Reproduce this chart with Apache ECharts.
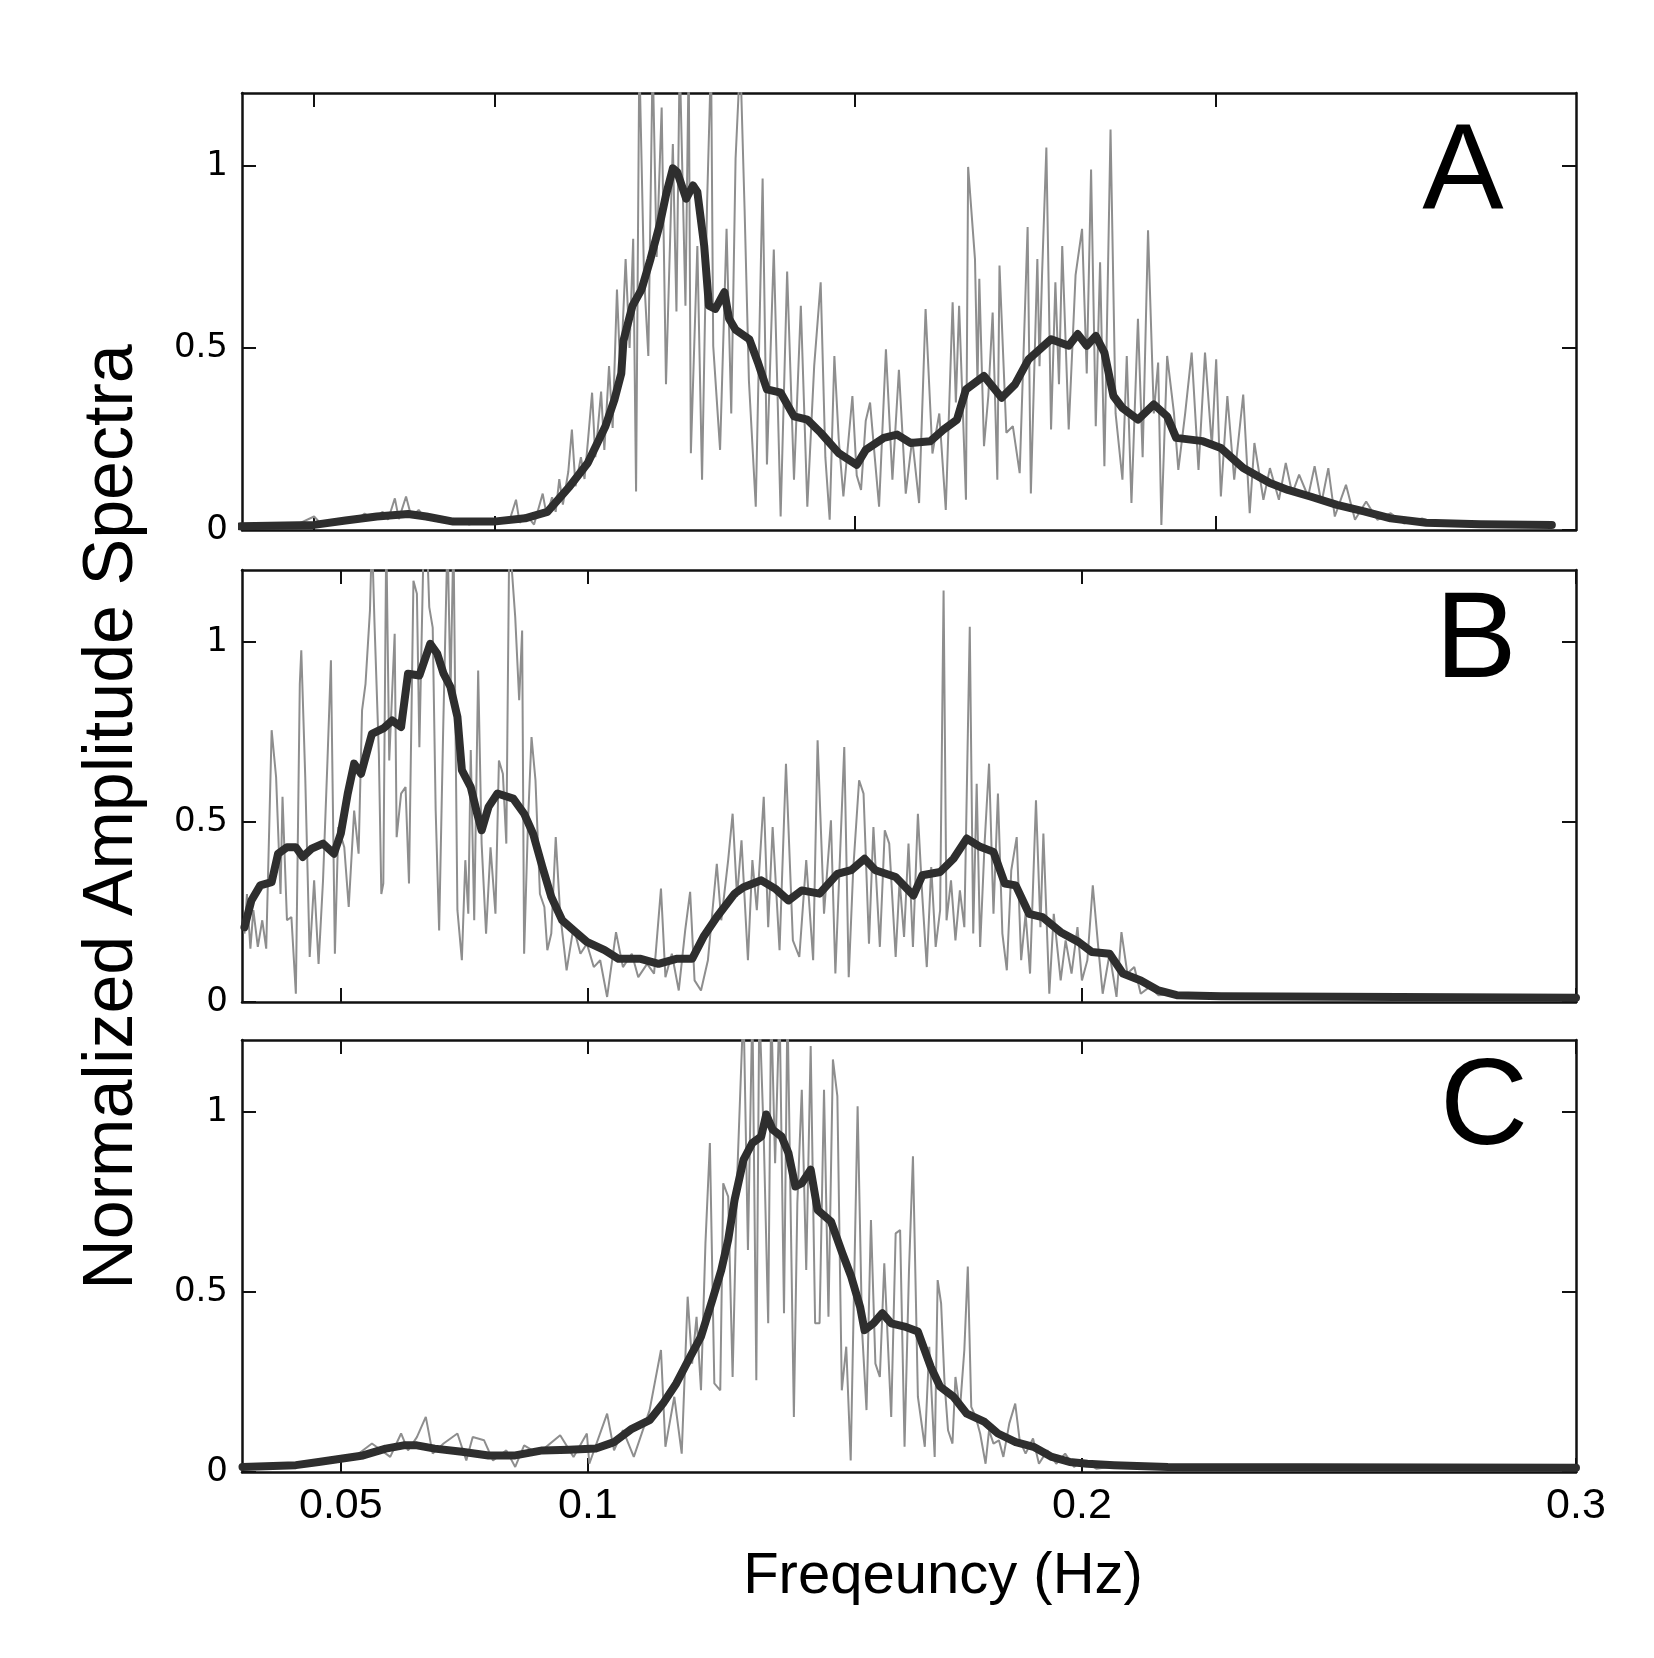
<!DOCTYPE html>
<html><head><meta charset="utf-8">
<script src="https://cdn.jsdelivr.net/npm/echarts@6/dist/echarts.min.js"></script>
<style>html,body{margin:0;padding:0;background:#fff}#c{width:1654px;height:1658px}</style>
</head><body><div id="c"></div>
<script>
// ---------- data (frequency Hz, normalized amplitude) ----------
const xTickVals = [0.05, 0.1, 0.2, 0.3];
const xTickLabels = ['0.05', '0.1', '0.2', '0.3'];
const yTickVals = [0, 0.5, 1];
const yTickLabels = ['0', '0.5', '1'];
const panelLetters = ['A', 'B', 'C'];
const xRangeA = [0.03, 0.4];
const xRangeBC = [0.03, 0.3];
const yRange = [0, 1.2];

const rawA = [[0.0295,0.01],[0.035,0.012],[0.040,0.01],[0.045,0.014],[0.0500,0.037],[0.052,0.016],[0.055,0.024],[0.058,0.03],[0.061,0.022],[0.064,0.045],[0.0665,0.03],[0.069,0.05],[0.0705,0.028],[0.0724,0.087],[0.0735,0.03],[0.0755,0.092],[0.077,0.035],[0.079,0.055],[0.081,0.03],[0.084,0.028],[0.087,0.02],[0.090,0.03],[0.093,0.015],[0.096,0.025],[0.099,0.018],[0.102,0.03],[0.104,0.02],[0.1060,0.083],[0.107,0.02],[0.109,0.04],[0.111,0.015],[0.1134,0.10],[0.1145,0.04],[0.116,0.09],[0.117,0.05],[0.118,0.14],[0.119,0.07],[0.1205,0.16],[0.1215,0.276],[0.1225,0.12],[0.124,0.2],[0.125,0.14],[0.126,0.25],[0.1271,0.377],[0.128,0.2],[0.1296,0.38],[0.1305,0.22],[0.1318,0.45],[0.1328,0.28],[0.1340,0.66],[0.1350,0.42],[0.1364,0.744],[0.1375,0.5],[0.1385,0.8],[0.1393,0.106],[0.1402,1.3],[0.1415,0.7],[0.1427,0.478],[0.1439,1.3],[0.1450,0.75],[0.1464,1.16],[0.1476,0.40],[0.1495,1.06],[0.1505,0.6],[0.1514,1.3],[0.1530,0.616],[0.1539,1.3],[0.1545,0.211],[0.1563,0.78],[0.1576,0.138],[0.1590,0.9],[0.1601,1.3],[0.1607,0.505],[0.1626,0.22],[0.1644,0.827],[0.1657,0.32],[0.1669,1.02],[0.1682,1.3],[0.1694,0.88],[0.1706,0.41],[0.1725,0.064],[0.1744,0.965],[0.1756,0.18],[0.1775,0.77],[0.1794,0.037],[0.1812,0.71],[0.1831,0.138],[0.1850,0.616],[0.1868,0.064],[0.1887,0.45],[0.1905,0.68],[0.1918,0.2],[0.1930,0.028],[0.1943,0.478],[0.1955,0.25],[0.1968,0.092],[0.1993,0.368],[0.2005,0.15],[0.2017,0.11],[0.2030,0.3],[0.2042,0.35],[0.2055,0.2],[0.2067,0.064],[0.2086,0.496],[0.2104,0.138],[0.2122,0.44],[0.2141,0.10],[0.2159,0.25],[0.2178,0.074],[0.2196,0.607],[0.2215,0.21],[0.2234,0.32],[0.2252,0.055],[0.2271,0.625],[0.2280,0.35],[0.2289,0.616],[0.2308,0.083],[0.2314,0.997],[0.2333,0.744],[0.2340,0.40],[0.2345,0.69],[0.2358,0.23],[0.2370,0.368],[0.2382,0.597],[0.2395,0.138],[0.2401,0.726],[0.2420,0.267],[0.2438,0.285],[0.2457,0.156],[0.2479,0.832],[0.2488,0.10],[0.2506,0.744],[0.2512,0.45],[0.2519,0.70],[0.2531,1.05],[0.2544,0.276],[0.2556,0.68],[0.2566,0.4],[0.2575,0.78],[0.2593,0.276],[0.2612,0.70],[0.2630,0.827],[0.2643,0.43],[0.2655,0.99],[0.2668,0.285],[0.2680,0.735],[0.2692,0.175],[0.2709,1.10],[0.2723,0.32],[0.2742,0.138],[0.2754,0.478],[0.2767,0.074],[0.2785,0.58],[0.2798,0.20],[0.2813,0.823],[0.2829,0.32],[0.2841,0.46],[0.2850,0.014],[0.2866,0.478],[0.2885,0.32],[0.2897,0.165],[0.2916,0.32],[0.2934,0.487],[0.2953,0.165],[0.2971,0.487],[0.2990,0.23],[0.3002,0.469],[0.3015,0.092],[0.3033,0.368],[0.3052,0.138],[0.3077,0.372],[0.3095,0.046],[0.3108,0.239],[0.3133,0.083],[0.3151,0.17],[0.3176,0.083],[0.3195,0.184],[0.3213,0.10],[0.3232,0.152],[0.3257,0.092],[0.3275,0.175],[0.3294,0.074],[0.3313,0.17],[0.3331,0.037],[0.3362,0.124],[0.3387,0.028],[0.3418,0.078],[0.3449,0.028],[0.3486,0.046],[0.3523,0.018],[0.3573,0.032],[0.3622,0.014],[0.3685,0.023],[0.3759,0.011],[0.3858,0.017],[0.3933,0.009]];

const smoothA = [[0.0295,0.01],[0.05,0.014],[0.0587,0.026],[0.0674,0.037],[0.0761,0.044],[0.0811,0.037],[0.0886,0.023],[0.0998,0.023],[0.1085,0.032],[0.1147,0.05],[0.1209,0.12],[0.1259,0.184],[0.1308,0.285],[0.1333,0.358],[0.1352,0.43],[0.1358,0.52],[0.1383,0.616],[0.1408,0.66],[0.1433,0.744],[0.1458,0.836],[0.1476,0.92],[0.1495,0.993],[0.1507,0.983],[0.1532,0.91],[0.1551,0.946],[0.1563,0.928],[0.1582,0.78],[0.1595,0.616],[0.1613,0.607],[0.1638,0.653],[0.1651,0.58],[0.1669,0.55],[0.1707,0.524],[0.1731,0.46],[0.1756,0.386],[0.1794,0.377],[0.1831,0.312],[0.1868,0.303],[0.1905,0.267],[0.1955,0.211],[0.2005,0.179],[0.2030,0.22],[0.2080,0.253],[0.2117,0.262],[0.2154,0.239],[0.2209,0.244],[0.2246,0.276],[0.2283,0.303],[0.2308,0.386],[0.2358,0.423],[0.2407,0.363],[0.2444,0.40],[0.2482,0.469],[0.2544,0.524],[0.2593,0.506],[0.2618,0.538],[0.2643,0.506],[0.2668,0.533],[0.2692,0.487],[0.2717,0.368],[0.2742,0.335],[0.2785,0.303],[0.2829,0.345],[0.2866,0.312],[0.2891,0.253],[0.2965,0.244],[0.3015,0.225],[0.3077,0.17],[0.3151,0.129],[0.3201,0.11],[0.3263,0.092],[0.3337,0.069],[0.3412,0.051],[0.3486,0.032],[0.3585,0.02],[0.3734,0.016],[0.3933,0.014]];

const rawB = [[0.0305,0.19],[0.0310,0.30],[0.0317,0.148],[0.0323,0.255],[0.0332,0.153],[0.0341,0.227],[0.0349,0.148],[0.0360,0.755],[0.0369,0.625],[0.0378,0.30],[0.0382,0.57],[0.0391,0.227],[0.0400,0.236],[0.0409,0.023],[0.0417,0.884],[0.0420,0.977],[0.0428,0.625],[0.0437,0.125],[0.0446,0.338],[0.0455,0.106],[0.0464,0.338],[0.0473,0.671],[0.0480,0.949],[0.0488,0.134],[0.0495,0.486],[0.0507,0.43],[0.0516,0.264],[0.0527,0.532],[0.0536,0.412],[0.0543,0.81],[0.0550,0.884],[0.0559,1.088],[0.0563,1.3],[0.0568,1.06],[0.0577,0.69],[0.0582,0.30],[0.0586,0.329],[0.0592,1.3],[0.0598,0.671],[0.0609,1.023],[0.0613,0.458],[0.0622,0.579],[0.0631,0.597],[0.0638,0.329],[0.0647,1.17],[0.0654,1.134],[0.0659,0.708],[0.0668,1.3],[0.0674,1.3],[0.0679,1.097],[0.0686,1.04],[0.0692,0.532],[0.0699,0.199],[0.0707,0.745],[0.0716,1.3],[0.0722,0.856],[0.0728,1.3],[0.0736,0.255],[0.0745,0.116],[0.0752,0.394],[0.0758,0.245],[0.0763,0.70],[0.0770,0.227],[0.0778,0.921],[0.0785,0.44],[0.0794,0.19],[0.0803,0.43],[0.0813,0.245],[0.0820,0.671],[0.0828,0.634],[0.0835,0.44],[0.0841,1.3],[0.0853,1.069],[0.0861,0.838],[0.0867,1.032],[0.0871,0.134],[0.0879,0.505],[0.0886,0.736],[0.0894,0.616],[0.0903,0.30],[0.0912,0.264],[0.0918,0.144],[0.0926,0.19],[0.0935,0.458],[0.0944,0.245],[0.0957,0.088],[0.0971,0.208],[0.0985,0.134],[0.0998,0.162],[0.1012,0.097],[0.1025,0.116],[0.1039,0.014],[0.1057,0.194],[0.1071,0.097],[0.1089,0.134],[0.1102,0.069],[0.1120,0.106],[0.1134,0.079],[0.1148,0.315],[0.1157,0.069],[0.1170,0.134],[0.1184,0.032],[0.1197,0.199],[0.1207,0.306],[0.1216,0.06],[0.1229,0.032],[0.1243,0.116],[0.1261,0.384],[0.1270,0.227],[0.1284,0.394],[0.1293,0.523],[0.1302,0.292],[0.1311,0.449],[0.1324,0.116],[0.1333,0.394],[0.1342,0.255],[0.1356,0.57],[0.1365,0.208],[0.1374,0.486],[0.1388,0.144],[0.1401,0.662],[0.1415,0.171],[0.1428,0.125],[0.1442,0.394],[0.1456,0.116],[0.1465,0.727],[0.1478,0.245],[0.1492,0.505],[0.1501,0.079],[0.1519,0.708],[0.1528,0.069],[0.1537,0.366],[0.1549,0.616],[0.1558,0.579],[0.1569,0.162],[0.1578,0.486],[0.1591,0.153],[0.1601,0.477],[0.1610,0.44],[0.1623,0.125],[0.1631,0.338],[0.1640,0.181],[0.1649,0.44],[0.1658,0.153],[0.1668,0.523],[0.1677,0.292],[0.1686,0.097],[0.1695,0.375],[0.1704,0.153],[0.1713,0.255],[0.1720,1.143],[0.1726,0.227],[0.1735,0.338],[0.1744,0.171],[0.1753,0.31],[0.1762,0.208],[0.1773,1.042],[0.1780,0.19],[0.1787,0.606],[0.1794,0.153],[0.1803,0.44],[0.1812,0.662],[0.1821,0.245],[0.1830,0.579],[0.1839,0.19],[0.1848,0.088],[0.1857,0.366],[0.1868,0.458],[0.1877,0.116],[0.1886,0.245],[0.1895,0.079],[0.1907,0.56],[0.1916,0.208],[0.1922,0.468],[0.1934,0.023],[0.1943,0.245],[0.1957,0.06],[0.1967,0.171],[0.1979,0.079],[0.1991,0.208],[0.2000,0.06],[0.2011,0.116],[0.2022,0.324],[0.2033,0.153],[0.2042,0.023],[0.2056,0.134],[0.2070,0.014],[0.2080,0.194],[0.2092,0.079],[0.2106,0.097],[0.2119,0.023],[0.2137,0.042],[0.2155,0.019],[0.2192,0.023],[0.2264,0.014]];

const smoothB = [[0.0305,0.208],[0.0319,0.282],[0.0337,0.324],[0.0360,0.333],[0.0373,0.412],[0.0391,0.43],[0.0409,0.43],[0.0423,0.403],[0.0441,0.426],[0.0464,0.44],[0.0486,0.412],[0.0500,0.468],[0.0514,0.579],[0.0527,0.662],[0.0541,0.634],[0.0563,0.745],[0.0586,0.76],[0.0604,0.782],[0.0622,0.764],[0.0636,0.912],[0.0659,0.907],[0.0681,0.995],[0.0695,0.968],[0.0708,0.912],[0.0722,0.875],[0.0736,0.792],[0.0745,0.644],[0.0763,0.597],[0.0776,0.523],[0.0785,0.477],[0.0799,0.542],[0.0817,0.579],[0.0849,0.565],[0.0871,0.523],[0.0889,0.468],[0.0908,0.375],[0.0926,0.292],[0.0948,0.227],[0.0971,0.199],[0.0998,0.167],[0.1034,0.144],[0.1062,0.12],[0.1107,0.12],[0.1143,0.106],[0.1179,0.12],[0.1211,0.12],[0.1234,0.181],[0.1261,0.236],[0.1297,0.301],[0.1315,0.319],[0.1351,0.338],[0.1379,0.315],[0.1406,0.282],[0.1433,0.31],[0.1469,0.301],[0.1505,0.356],[0.1533,0.366],[0.1560,0.398],[0.1582,0.366],[0.1623,0.347],[0.1659,0.296],[0.1677,0.352],[0.1713,0.361],[0.1740,0.398],[0.1767,0.454],[0.1794,0.431],[0.1821,0.417],[0.1844,0.329],[0.1866,0.324],[0.1893,0.245],[0.1920,0.236],[0.1957,0.194],[0.1993,0.167],[0.2020,0.139],[0.2056,0.134],[0.2083,0.079],[0.2119,0.06],[0.2155,0.032],[0.2192,0.019],[0.2282,0.016],[0.3,0.012]];

const rawC = [[0.0301,0.012],[0.036,0.016],[0.042,0.02],[0.047,0.03],[0.051,0.04],[0.0535,0.05],[0.0563,0.079],[0.0600,0.042],[0.0622,0.107],[0.0636,0.06],[0.0654,0.097],[0.0672,0.153],[0.0686,0.051],[0.0708,0.079],[0.0736,0.107],[0.0754,0.032],[0.0767,0.097],[0.0790,0.088],[0.0808,0.032],[0.0835,0.06],[0.0853,0.014],[0.0871,0.074],[0.0899,0.051],[0.0944,0.102],[0.0971,0.042],[0.0998,0.107],[0.1003,0.023],[0.1039,0.162],[0.1053,0.06],[0.1071,0.116],[0.1093,0.042],[0.1125,0.172],[0.1148,0.339],[0.1157,0.07],[0.1175,0.209],[0.1190,0.051],[0.1202,0.487],[0.1211,0.301],[0.1220,0.431],[0.1229,0.227],[0.1238,0.635],[0.1247,0.914],[0.1256,0.246],[0.1268,0.227],[0.1274,0.802],[0.1284,0.765],[0.1293,0.264],[0.1302,0.812],[0.1315,1.3],[0.1324,0.617],[0.1333,1.3],[0.1341,0.255],[0.1347,1.3],[0.1356,0.932],[0.1365,0.413],[0.1371,1.3],[0.1379,0.858],[0.1388,1.3],[0.1397,0.441],[0.1404,1.3],[0.1417,0.153],[0.1424,0.747],[0.1433,1.062],[0.1442,0.561],[0.1451,1.183],[0.1460,0.413],[0.1469,0.413],[0.1478,1.062],[0.1487,0.431],[0.1496,1.146],[0.1505,1.044],[0.1514,0.227],[0.1523,0.348],[0.1532,0.032],[0.1546,1.016],[0.1555,0.394],[0.1564,0.172],[0.1573,0.70],[0.1582,0.301],[0.1591,0.264],[0.1600,0.58],[0.1614,0.153],[0.1623,0.663],[0.1632,0.672],[0.1641,0.07],[0.1650,0.561],[0.1658,0.877],[0.1668,0.209],[0.1682,0.07],[0.1691,0.348],[0.1702,0.042],[0.1708,0.533],[0.1715,0.468],[0.1722,0.246],[0.1729,0.116],[0.1738,0.079],[0.1744,0.264],[0.1753,0.172],[0.1762,0.339],[0.1769,0.571],[0.1776,0.181],[0.1785,0.153],[0.1794,0.107],[0.1805,0.023],[0.1812,0.116],[0.1821,0.079],[0.1832,0.088],[0.1841,0.042],[0.1853,0.135],[0.1865,0.19],[0.1874,0.088],[0.1886,0.051],[0.1901,0.093],[0.1913,0.023],[0.1930,0.06],[0.1948,0.023],[0.1966,0.051],[0.1984,0.014],[0.2002,0.032],[0.2029,0.009],[0.2065,0.016]];

const smoothC = [[0.0301,0.014],[0.0409,0.019],[0.0455,0.028],[0.0500,0.037],[0.0545,0.046],[0.0591,0.065],[0.0627,0.074],[0.0654,0.074],[0.0690,0.065],[0.0745,0.056],[0.0799,0.046],[0.0853,0.046],[0.0908,0.06],[0.0962,0.062],[0.1016,0.065],[0.1053,0.083],[0.1089,0.12],[0.1125,0.144],[0.1152,0.19],[0.1179,0.246],[0.1207,0.32],[0.1229,0.376],[0.1252,0.478],[0.1270,0.561],[0.1284,0.645],[0.1297,0.756],[0.1315,0.867],[0.1333,0.914],[0.1351,0.932],[0.1361,0.993],[0.1374,0.951],[0.1392,0.932],[0.1406,0.886],[0.1420,0.793],[0.1433,0.802],[0.1451,0.84],[0.1465,0.728],[0.1492,0.696],[0.1515,0.608],[0.1533,0.543],[0.1551,0.459],[0.1560,0.394],[0.1578,0.413],[0.1596,0.441],[0.1614,0.413],[0.1641,0.404],[0.1668,0.39],[0.1694,0.292],[0.1713,0.237],[0.1740,0.209],[0.1767,0.162],[0.1803,0.139],[0.1830,0.107],[0.1866,0.083],[0.1902,0.07],[0.1939,0.042],[0.1975,0.028],[0.2011,0.023],[0.2065,0.019],[0.2174,0.014],[0.3,0.012]];

// ---------- layout / styling ----------
const grids = [
  {left: 242, top: 93, width: 1334, height: 437},
  {left: 242, top: 570, width: 1334, height: 432},
  {left: 242, top: 1040, width: 1334, height: 432}
];
const xRanges = [xRangeA, xRangeBC, xRangeBC];
const letterPos = [[1463, 175], [1476, 643], [1484, 1110]];
const axisColor = '#111';

const xAxes = [], yAxes = [];
grids.forEach((g, i) => {
  ['bottom', 'top'].forEach(pos => {
    const showLabel = (i === 2 && pos === 'bottom');
    xAxes.push({
      type: 'value', gridIndex: i, position: pos,
      min: xRanges[i][0], max: xRanges[i][1],
      axisLine: {show: true, onZero: false, lineStyle: {color: axisColor, width: 2.5}},
      axisTick: {show: true, inside: true, length: 14, customValues: xTickVals, lineStyle: {color: axisColor, width: 2}},
      axisLabel: {show: showLabel, customValues: xTickVals, margin: 13,
        formatter: v => xTickLabels[xTickVals.indexOf(v)],
        color: '#000', fontFamily: 'Liberation Sans, Arial, sans-serif', fontSize: 43},
      splitLine: {show: false}
    });
  });
  ['left', 'right'].forEach(pos => {
    yAxes.push({
      type: 'value', gridIndex: i, position: pos,
      min: yRange[0], max: yRange[1],
      axisLine: {show: true, onZero: false, lineStyle: {color: axisColor, width: 2.5}},
      axisTick: {show: true, inside: true, length: 14, customValues: yTickVals, lineStyle: {color: axisColor, width: 2}},
      axisLabel: {show: pos === 'left', customValues: yTickVals, margin: 14,
        formatter: v => yTickLabels[yTickVals.indexOf(v)],
        color: '#000', fontFamily: 'DejaVu Sans, sans-serif', fontSize: 34},
      splitLine: {show: false}
    });
  });
});

const rawSets = [rawA, rawB, rawC];
const smoothSets = [smoothA, smoothB, smoothC];
const series = [];
for (let i = 0; i < 3; i++) {
  series.push({
    type: 'line', xAxisIndex: i * 2, yAxisIndex: i * 2, data: rawSets[i],
    showSymbol: false, symbol: 'none', clip: true, silent: true,
    lineStyle: {color: '#8e8e8e', width: 2}, z: 2
  });
  series.push({
    type: 'line', xAxisIndex: i * 2, yAxisIndex: i * 2, data: smoothSets[i],
    showSymbol: false, symbol: 'none', clip: true, silent: true,
    lineStyle: {color: '#2e2e2e', width: 8, join: 'round', cap: 'round'}, z: 3
  });
}

const graphic = [
  {type: 'text', x: 113, y: 817, rotation: Math.PI / 2, silent: true,
   style: {text: 'Normalized Amplitude Spectra', fill: '#000',
     font: '70px "Liberation Sans", Arial, sans-serif', textAlign: 'center', textVerticalAlign: 'middle'}},
  {type: 'text', x: 943, y: 1577, silent: true,
   style: {text: 'Freqeuncy (Hz)', fill: '#000',
     font: '58px "Liberation Sans", Arial, sans-serif', textAlign: 'center', textVerticalAlign: 'middle'}}
];
panelLetters.forEach((L, i) => {
  graphic.push({type: 'text', x: letterPos[i][0], y: letterPos[i][1], silent: true, z: 10,
    style: {text: L, fill: '#000', font: '122px "Liberation Sans", Arial, sans-serif',
      textAlign: 'center', textVerticalAlign: 'middle'}});
});

const chart = echarts.init(document.getElementById('c'), null, {renderer: 'canvas'});
chart.setOption({
  animation: false,
  backgroundColor: '#fff',
  grid: grids.map(g => Object.assign({containLabel: false, show: false}, g)),
  xAxis: xAxes,
  yAxis: yAxes,
  series: series,
  graphic: graphic
});
</script>
</body></html>
